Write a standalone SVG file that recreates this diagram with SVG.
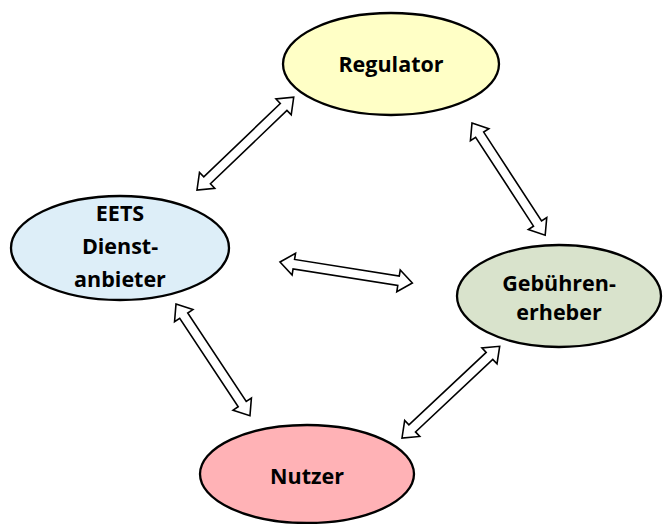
<svg xmlns="http://www.w3.org/2000/svg" xmlns:xlink="http://www.w3.org/1999/xlink" width="663" height="524" viewBox="0 0 663 524">
  <style>
    .node ellipse { stroke: #000; stroke-width: 2.3; }
    .label { font-family: "Open Sans", "Liberation Sans", sans-serif; font-weight: bold; font-size: 21.5px; fill: #000; text-anchor: middle; }
    .conn use { fill: #fff; stroke: #000; stroke-width: 1.6; stroke-linejoin: miter; }
  </style>
  <defs>
    <!-- hollow double-headed block arrow along the x axis, 134 long -->
    <path id="dbl" d="M0,0 L14,-11 L14,-4.8 L120,-4.8 L120,-11 L134,0 L120,11 L120,4.8 L14,4.8 L14,11 Z"/>
  </defs>

  <rect width="663" height="524" fill="#fff"/>

  <g id="connectors" class="conn">
    <use xlink:href="#dbl" transform="translate(197,190) rotate(-43.8)"/>
    <use xlink:href="#dbl" transform="translate(472,123) rotate(56.9)"/>
    <use xlink:href="#dbl" transform="translate(176,304) rotate(56.5)"/>
    <use xlink:href="#dbl" transform="translate(402,438) rotate(-43.2)"/>
    <use xlink:href="#dbl" transform="translate(280,262) rotate(9)"/>
  </g>

  <g id="regulator" class="node">
    <ellipse cx="391" cy="64" rx="108" ry="51" fill="#FFFFC6"/>
    <text class="label" x="391" y="72">Regulator</text>
  </g>

  <g id="eets" class="node">
    <ellipse cx="120" cy="248" rx="109" ry="52" fill="#DDEEF8"/>
    <text class="label" x="120" y="221">EETS</text>
    <text class="label" x="120" y="254">Dienst-</text>
    <text class="label" x="120" y="287">anbieter</text>
  </g>

  <g id="gebuehren" class="node">
    <ellipse cx="559" cy="296" rx="102" ry="51" fill="#D9E3CC"/>
    <text class="label" x="559" y="291">Gebühren-</text>
    <text class="label" x="559" y="320">erheber</text>
  </g>

  <g id="nutzer" class="node">
    <ellipse cx="307" cy="474" rx="107" ry="49" fill="#FFB2B6"/>
    <text class="label" x="307" y="484">Nutzer</text>
  </g>
</svg>
